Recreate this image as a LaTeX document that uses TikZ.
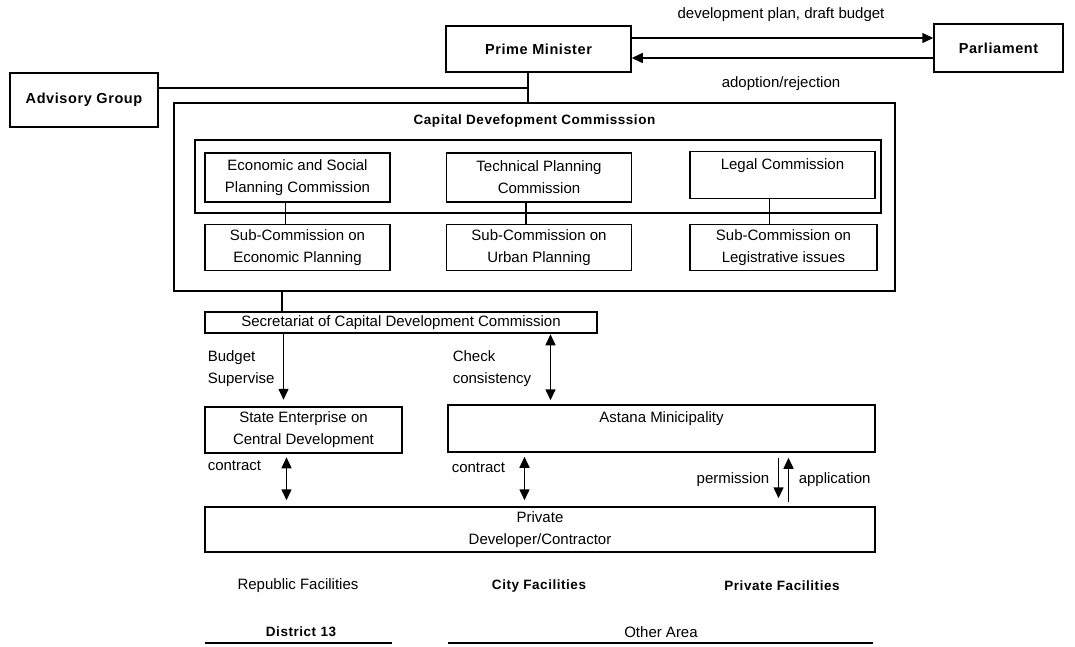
\documentclass[tikz,border=0pt]{standalone}
\usepackage{fontspec}
\setmainfont{Liberation Sans}
\newfontfamily\hdfont[LetterSpace=4]{Liberation Sans}
\usetikzlibrary{arrows.meta}
\tikzset{
  box/.style={draw,line width=1.5pt,inner sep=0pt,align=center,font=\fontsize{15}{22}\selectfont},
  bbox/.style={box,line width=2.5pt},
  hbox/.style={box,font=\hdfont\fontsize{14.5}{18}\selectfont\bfseries},
  lbl/.style={inner sep=0pt,align=left,font=\fontsize{15}{22}\selectfont},
  hlbl/.style={inner sep=0pt,font=\hdfont\fontsize{13.5}{16}\selectfont\bfseries}
}
\begin{document}
\begin{tikzpicture}[x=1pt,y=-1pt,line width=1.5pt,>={Triangle[length=11pt,width=10pt]}]
\useasboundingbox (0,0) rectangle (1075,646);
\draw node[hbox,minimum width=185pt,minimum height=46pt] (pm) at (538.5,49) {Prime Minister};
\draw node[hbox,minimum width=129pt,minimum height=48pt] (parl) at (998.5,48) {Parliament};
\draw node[hbox,minimum width=148pt,minimum height=54pt] (adv) at (84,100) {Advisory Group};
\draw node[lbl] (ldev) at (781,15) {development plan, draft budget};
\draw node[lbl] (ladop) at (781,84) {adoption/rejection};
\draw [->] ([yshift=11pt]pm.east)--([yshift=11pt]pm.east -| parl.west);
\draw [->] ([yshift=-9pt]pm.east -| parl.west)--([yshift=-9pt]pm.east);
\draw node[bbox,minimum width=721pt,minimum height=188pt] (cdc) at (534.5,197) {};
\draw node[hlbl] (cdct) at (534.5,121) {Capital Devefopment Commisssion};
\coordinate (jn) at (528,88);
\draw (adv.east |- jn)--(jn); \draw (jn |- pm.south)--(jn |- cdc.north);
\draw node[box,minimum width=686pt,minimum height=73pt] (com) at (538,176.5) {};
\draw node[box,minimum width=185pt,minimum height=49pt] (econ) at (297.5,177.5) {Economic and Social\\Planning Commission};
\draw node[box,minimum width=185pt,minimum height=49pt] (tech) at (539,177.5) {Technical Planning\\Commission};
\draw node[box,minimum width=185pt,minimum height=47pt] (legal) at (782.5,175) {Legal Commission\\\mbox{}};
\draw node[box,minimum width=185pt,minimum height=46pt] (subecon) at (297.5,247.5) {Sub-Commission on\\Economic Planning};
\draw node[box,minimum width=185pt,minimum height=46pt] (suburb) at (539,247.5) {Sub-Commission on\\Urban Planning};
\draw node[box,minimum width=187pt,minimum height=46pt] (sublegis) at (783.5,247.5) {Sub-Commission on\\Legistrative issues};
\draw ([xshift=-12pt]econ.south)--([xshift=-12pt]subecon.north);
\draw ([xshift=-13pt]tech.south)--([xshift=-13pt]suburb.north);
\draw ([xshift=-13pt]legal.south)--([xshift=-13pt]legal.south |- sublegis.north);
\draw node[bbox,minimum width=392pt,minimum height=21pt] (sec) at (401,322.5) {Secretariat of Capital Development Commission};
\coordinate (sj) at (282,300);
\draw (sj |- cdc.south)--(sj |- sec.north);
\draw node[bbox,minimum width=197pt,minimum height=46pt] (se) at (303.5,430) {State Enterprise on\\Central Development};
\draw node[box,minimum width=427pt,minimum height=47pt] (ast) at (661.5,428.5) {Astana Minicipality\\\mbox{}};
\draw node[box,minimum width=670pt,minimum height=45pt] (priv) at (540,529.5) {Private\\Developer/Contractor};
\draw [->,shorten >=6pt] ([xshift=-20pt]se.north |- sec.south)--([xshift=-20pt]se.north);
\draw [<->,shorten >=4pt] ([xshift=-111pt]ast.north |- sec.south)--([xshift=-111pt]ast.north);
\draw node[lbl,anchor=west] (lbud) at (207,369) {Budget\\Supervise};
\draw node[lbl,anchor=west] (lchk) at (452,369) {Check\\consistency};
\draw [<->,shorten <=3pt,shorten >=6pt] ([xshift=-17pt]se.south)--([xshift=-17pt]se.south |- priv.north);
\draw [<->,shorten <=4pt,shorten >=6pt] ([xshift=-137pt]ast.south)--([xshift=-137pt]ast.south |- priv.north);
\draw [->,shorten <=5pt,shorten >=8pt] ([xshift=117pt]ast.south)--([xshift=117pt]ast.south |- priv.north);
\draw [->,shorten <=4pt,shorten >=5pt] ([xshift=127pt]ast.south |- priv.north)--([xshift=127pt]ast.south);
\draw node[lbl,anchor=west] (lcon1) at (207,466) {contract};
\draw node[lbl,anchor=west] (lcon2) at (451,468) {contract};
\draw node[lbl,anchor=east] (lperm) at (770,480) {permission};
\draw node[lbl,anchor=west] (lapp) at (798,480) {application};
\draw node[lbl] (rep) at (298,586) {Republic Facilities};
\draw node[hlbl] (city) at (539,586) {City Facilities};
\draw node[hlbl] (prf) at (782,586) {Private Facilities};
\draw node[hlbl] (dist) at (301,632) {District 13};
\draw node[lbl] (oth) at (661,632) {Other Area};
\draw [line width=2.5pt] (205,643)--(392,643); \draw [line width=2.5pt] (448,643)--(873,643);
\end{tikzpicture}
\end{document}
